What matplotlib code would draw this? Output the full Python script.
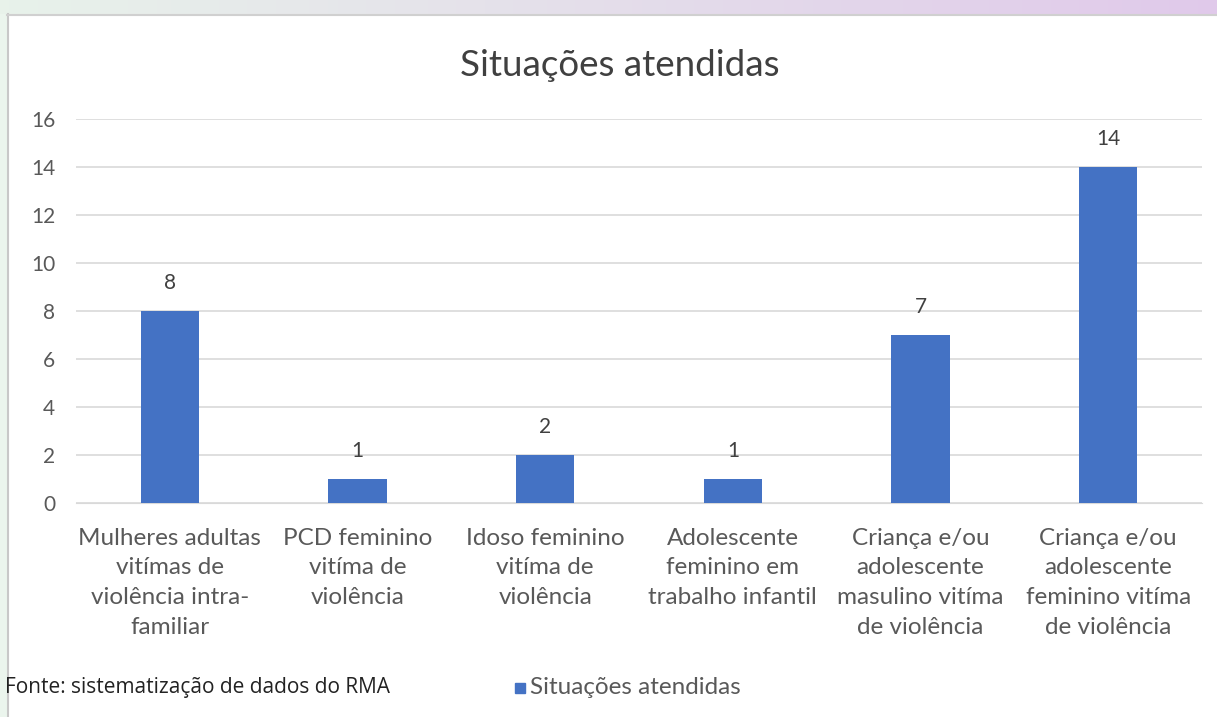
import matplotlib
matplotlib.use("Agg")
import matplotlib.pyplot as plt
import numpy as np
from matplotlib.patches import Rectangle

categories = [
    "Mulheres adultas\nvitímas de\nviolência intra-\nfamiliar",
    "PCD feminino\nvitíma de\nviolência",
    "Idoso feminino\nvitíma de\nviolência",
    "Adolescente\nfeminino em\ntrabalho infantil",
    "Criança e/ou\nadolescente\nmasulino vitíma\nde violência",
    "Criança e/ou\nadolescente\nfeminino vitíma\nde violência",
]
values = [8, 1, 2, 1, 7, 14]
yticks = [0, 2, 4, 6, 8, 10, 12, 14, 16]
title = "Situações atendidas"
series_name = "Situações atendidas"
source = "Fonte: sistematização de dados do RMA"

W, H = 1217, 717
fig = plt.figure(figsize=(W / 100, H / 100), dpi=100)
fig.patch.set_facecolor("white")

# background gradient strip at top and left
bg = fig.add_axes([0, 0, 1, 1], zorder=-10)
bg.set_xlim(0, W); bg.set_ylim(H, 0); bg.axis("off")
grad = np.linspace(0, 1, 256)
c0 = np.array([0.91, 0.95, 0.92]); c1 = np.array([0.88, 0.79, 0.92])
img = (c0[None, :] * (1 - grad[:, None]) + c1[None, :] * grad[:, None])[None, :, :]
bg.imshow(img, extent=[0, W, 14, 0], aspect="auto")
bg.add_patch(Rectangle((0, 14), 7, H - 14, color=(0.92, 0.96, 0.93), lw=0))
bg.plot([7.5, 7.5], [14, H], color="#c8c8c8", lw=1.5)
bg.plot([7, W], [14.5, 14.5], color="#d0d0d0", lw=1.5)

font = "Lato"
ax = fig.add_axes([76 / W, 1 - 503 / H, (1202 - 76) / W, (503 - 119) / H])
x = np.arange(len(categories))
ax.bar(x, values, width=0.31, color="#4472c4", zorder=3)
ax.set_xlim(-0.5, len(categories) - 0.5)
ax.set_ylim(0, 16)
ax.set_yticks(yticks)
ax.set_yticklabels([str(t) for t in yticks], fontsize=15, color="#595959", family=font)
ax.tick_params(axis="y", length=0, pad=15)
ax.tick_params(axis="x", length=0, pad=18)
ax.set_xticks(x)
ax.set_xticklabels(categories, fontsize=17.5, color="#595959", family=font, linespacing=1.5, va="top")
ax.grid(axis="y", color="#d9d9d9", lw=1.2, zorder=0)
for s in ax.spines.values():
    s.set_visible(False)
ax.spines["bottom"].set_visible(True)
ax.spines["bottom"].set_color("#d9d9d9")
for xi, v in zip(x, values):
    ax.annotate(str(v), (xi, v), xytext=(0, 20), textcoords="offset points",
                ha="center", va="center", fontsize=15, color="#404040", family=font)

fig.text(620 / W, 1 - 66 / H, title, ha="center", va="center",
         fontsize=26.5, color="#404040", family=font)
fig.text(5 / W, 1 - 688 / H, source, ha="left", va="center", fontsize=15, color="#222222",
         family="Open Sans")
fig.patches.append(Rectangle((515 / W, 1 - 693 / H), 10 / W, 10 / H, transform=fig.transFigure,
                             color="#4472c4", figure=fig))
fig.text(530 / W, 1 - 688 / H, series_name, ha="left", va="center", fontsize=17.5,
         color="#595959", family=font)

fig.savefig("out.png", dpi=100)
